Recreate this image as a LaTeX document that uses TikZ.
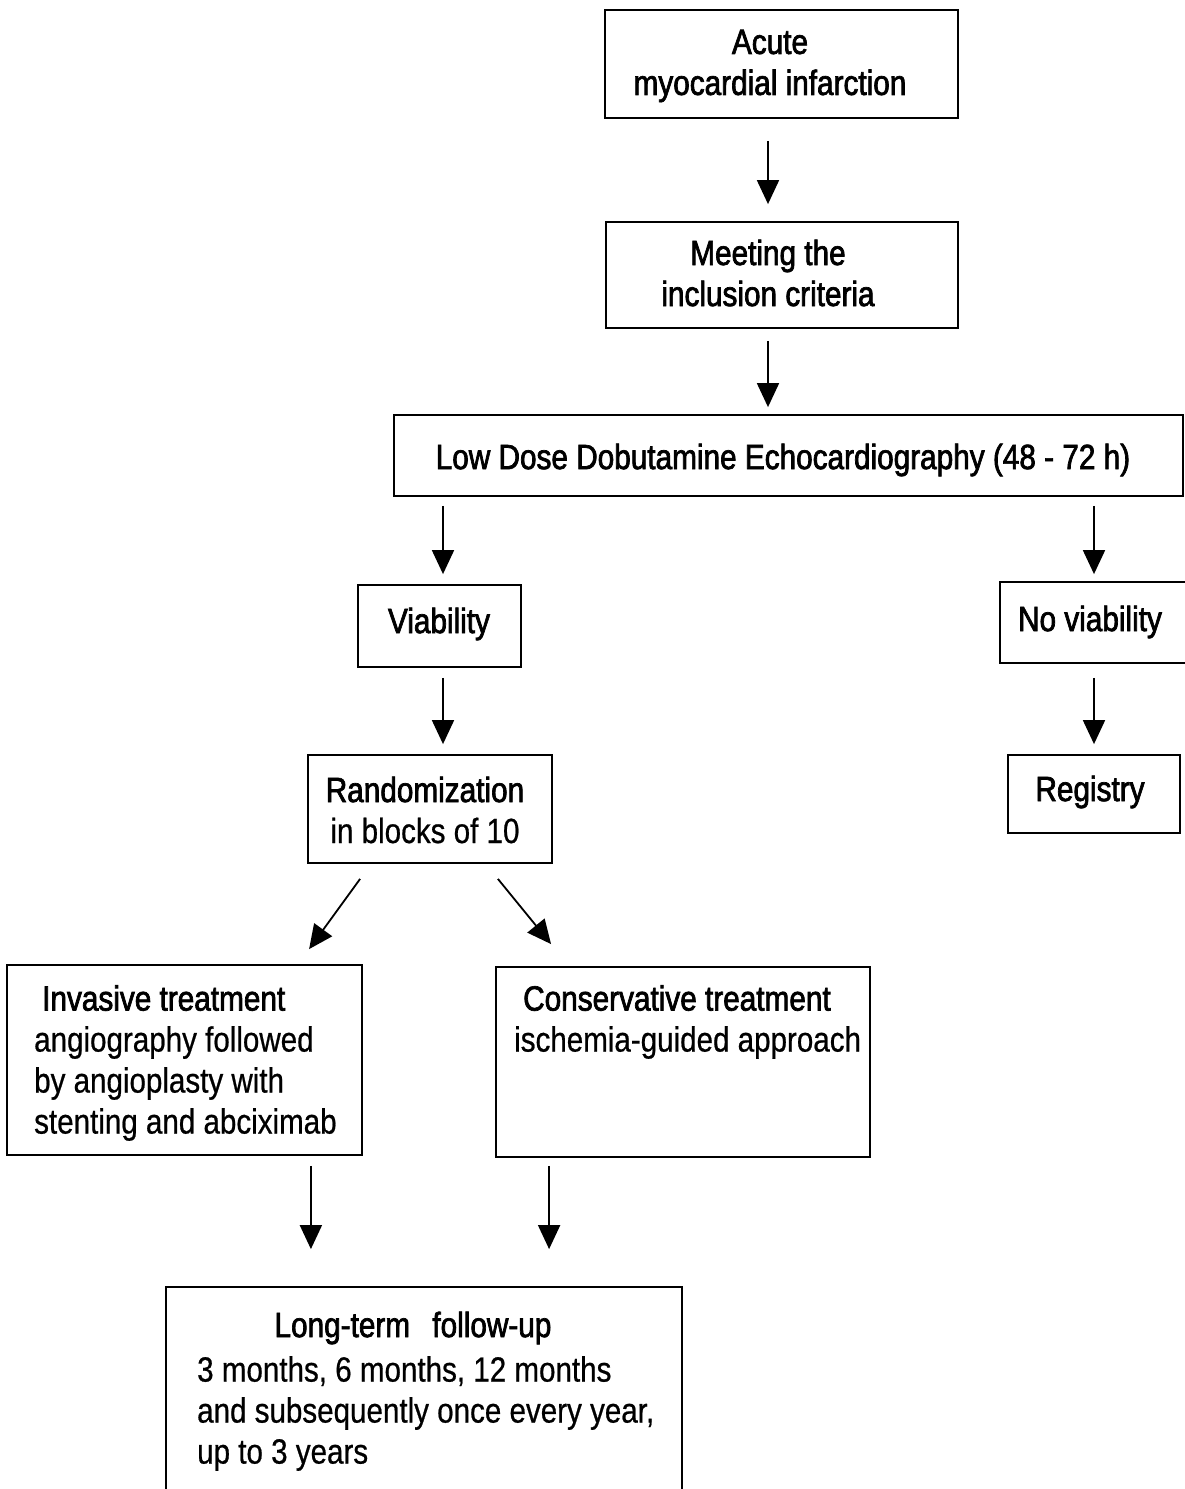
\documentclass[tikz,border=0pt]{standalone}
\usepackage{fontspec}
\setmainfont[FakeStretch=0.845,FakeBold=0.6]{Liberation Sans}
\newfontfamily\hdfont[FakeStretch=0.85,FakeBold=2]{Liberation Sans}
\usetikzlibrary{arrows.meta}
\tikzset{
  box/.style={draw, line width=1.8pt, inner sep=0pt},
  ctxt/.style={inner sep=0pt, align=center},
  ltxt/.style={inner sep=0pt, align=left, anchor=north west},
  arr/.style={line width=1.8pt, -{Triangle[length=24pt,width=22pt]}},
}
\begin{document}
\begin{tikzpicture}[x=1pt, y=-1pt, font=\fontsize{35}{41}\selectfont]
\useasboundingbox (0,0) rectangle (1185,1489);
\clip (0,0) rectangle (1185,1489);

% boxes
\node[box, minimum width=353pt, minimum height=108pt] (acute) at (781.5,64) {};
\node[box, minimum width=352pt, minimum height=106pt] (meet) at (782,275) {};
\node[box, minimum width=789pt, minimum height=81pt] (ldde) at (788.5,455.5) {};
\node[box, minimum width=163pt, minimum height=82pt] (viab) at (439.5,626) {};
\node[box, minimum width=220pt, minimum height=81pt] (noviab) at (1110,622.5) {};
\node[box, minimum width=244pt, minimum height=108pt] (random) at (430,809) {};
\node[box, minimum width=172pt, minimum height=78pt] (registry) at (1094,794) {};
\node[box, minimum width=355pt, minimum height=190pt] (invasive) at (184.5,1060) {};
\node[box, minimum width=374pt, minimum height=190pt] (conserv) at (683,1062) {};
\node[box, minimum width=516pt, minimum height=260pt] (followup) at (424,1417) {};

% texts
\node[ctxt] (acutetxt) at (770,66) {\hdfont Acute\\\hdfont myocardial infarction};
\node[ctxt] (meettxt) at (768,273) {\hdfont Meeting the\\\hdfont inclusion criteria};
\node[ctxt] (lddetxt) at (783,460) {\hdfont Low Dose Dobutamine Echocardiography (48 - 72 h)};
\node[ctxt] (viabtxt) at (439,624) {\hdfont Viability};
\node[ctxt] (noviabtxt) at (1090,622) {\hdfont No viability};
\node[ctxt] (registrytxt) at (1090,792) {\hdfont Registry};
\node[ctxt] (randomtxt) at (425,810) {\hdfont Randomization\\in blocks of 10};
\node[ltxt] (invasivetxt) at (34,985) {\hspace*{8pt}\hdfont Invasive treatment\\
  angiography followed\\by angioplasty with\\stenting and abciximab};
\node[ltxt] (conservtxt) at (514,985) {\hspace*{9pt}\hdfont Conservative treatment\\
  ischemia-guided approach};
\node[ctxt] (followuphd) at (413,1328) {\hdfont Long-term\hspace*{14pt} follow-up};
\node[ltxt] (followuptxt) at (197,1356) {3 months, 6 months, 12 months\\
  and subsequently once every year,\\up to 3 years};

% arrows
\draw[arr, shorten <=22pt, shorten >=17pt] ([xshift=-13.5pt]acute.south) -- ([xshift=-14pt]meet.north);
\draw[arr, shorten <=12pt, shorten >=7pt] ([xshift=-14pt]meet.south) -- ([xshift=-14pt]meet.south |- ldde.north);
\draw[arr, shorten <=9pt, shorten >=10pt] ([xshift=3.5pt]viab.north |- ldde.south) -- ([xshift=3.5pt]viab.north);
\draw[arr, shorten <=9pt, shorten >=7pt] (registry.north |- ldde.south) -- (registry.north |- noviab.north);
\draw[arr, shorten <=10pt, shorten >=10pt] ([xshift=3.5pt]viab.south) -- ([xshift=3.5pt]viab.south |- random.north);
\draw[arr, shorten <=14pt, shorten >=10pt] (registry.north |- noviab.south) -- (registry.north);
\draw[arr] ([xshift=53pt,yshift=-15pt]random.south west) -- ([xshift=303pt,yshift=15pt]invasive.north west);
\draw[arr] ([xshift=-55pt,yshift=-15pt]random.south east) -- ([xshift=56pt,yshift=22pt]conserv.north west);
\draw[arr, shorten <=10pt, shorten >=37pt] ([xshift=-52pt]invasive.south east) -- ([xshift=-52pt]invasive.south east |- followup.north);
\draw[arr, shorten <=8pt, shorten >=37pt] ([xshift=54pt]conserv.south west) -- ([xshift=54pt]conserv.south west |- followup.north);
\end{tikzpicture}
\end{document}
